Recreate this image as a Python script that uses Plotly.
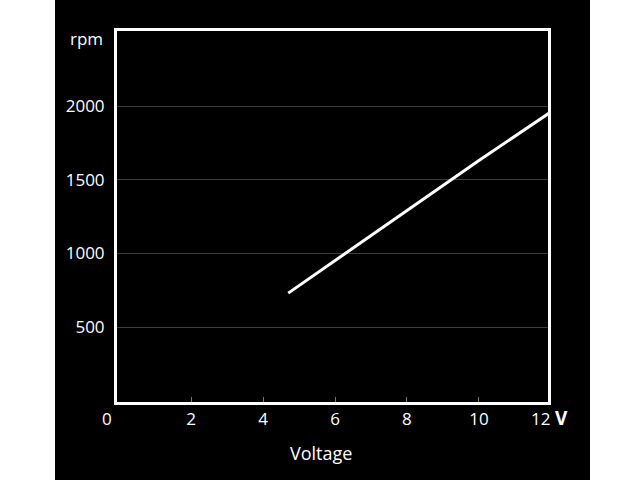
import plotly.graph_objects as go

voltage = [4.7, 6, 8, 10, 12]
rpm = [730, 950, 1290, 1630, 1960]

x_tick_vals = [2, 4, 6, 8, 10]
x_tick_text = ["2", "4", "6", "8", "10"]
y_tick_vals = [500, 1000, 1500, 2000]
y_tick_text = ["500", "1000", "1500", "2000"]

FONT = "Open Sans"
L, R, T, B = 117, 92, 31, 78
PW = 640 - L - R
PH = 480 - T - B


def px(xp):
    return (xp - L) / PW


fig = go.Figure()
fig.add_trace(go.Scatter(x=voltage, y=rpm, mode="lines",
                         line=dict(color="white", width=3), showlegend=False,
                         hoverinfo="skip"))

lab = dict(color="white", size=17, family=FONT)
annotations = [
    dict(x=px(107), y=0, xref="paper", yref="paper", text="0", showarrow=False,
         yanchor="middle", xanchor="center", yshift=-16, font=lab),
    dict(x=px(540), y=0, xref="paper", yref="paper", text="12", showarrow=False,
         yanchor="middle", xanchor="center", yshift=-16, font=lab),
    dict(x=px(561), y=0, xref="paper", yref="paper", text="<b>V</b>", showarrow=False,
         yanchor="middle", xanchor="center", yshift=-16,
         font=dict(color="white", size=19, family=FONT)),
    dict(x=px(321), y=0, xref="paper", yref="paper", text="Voltage", showarrow=False,
         yanchor="middle", xanchor="center", yshift=-51,
         font=dict(color="white", size=18, family=FONT)),
    dict(x=px(105), y=1, xref="paper", yref="paper", text="rpm", showarrow=False,
         xanchor="right", yanchor="middle", yshift=-7, font=lab),
]

fig.update_layout(
    width=640, height=480,
    margin=dict(l=L, r=R, t=T, b=B),
    paper_bgcolor="white",
    plot_bgcolor="black",
    font=dict(family=FONT, color="white", size=17),
    annotations=annotations,
    shapes=[dict(type="rect", xref="paper", yref="paper",
                 x0=px(55), x1=px(590),
                 y0=(PH - 480 + T) / PH - 0.01, y1=(PH + T) / PH + 0.01,
                 fillcolor="black", line=dict(width=0), layer="below")],
    xaxis=dict(range=[-0.06, 11.92], tickvals=x_tick_vals, ticktext=x_tick_text,
               showgrid=False, zeroline=False, showline=True, linecolor="white",
               linewidth=3, mirror=True, ticks="inside", ticklen=5, tickcolor="#777",
               tickwidth=1, ticklabelstandoff=0,
               tickfont=lab),
    yaxis=dict(range=[-9, 2509], tickvals=y_tick_vals, ticktext=y_tick_text,
               showgrid=True, gridcolor="#3c3c3c", gridwidth=1, zeroline=False,
               showline=True, linecolor="white", linewidth=3, mirror=True,
               ticks="", ticklabelstandoff=6,
               tickfont=lab),
)

fig.write_html("out.html", config={"displayModeBar": False},
               post_script="document.body.style.margin='0';document.body.style.padding='0';")
